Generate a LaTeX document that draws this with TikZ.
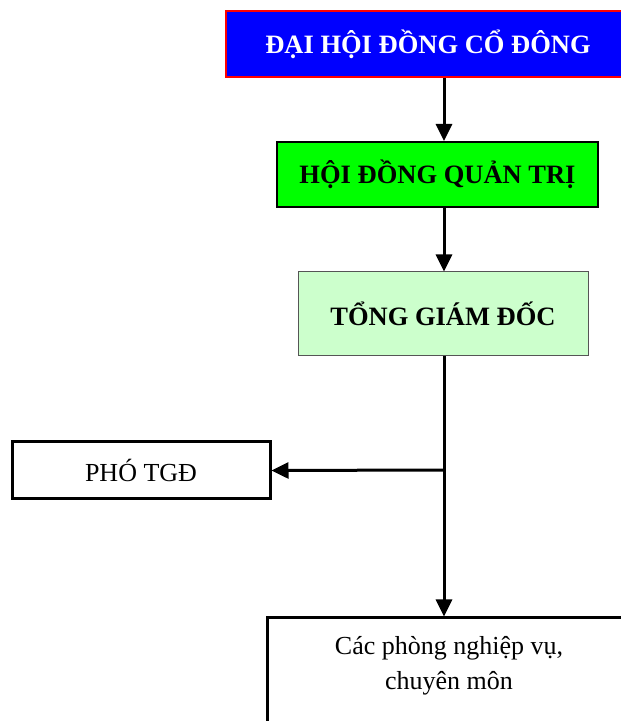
\documentclass[tikz,border=0pt]{standalone}
\usepackage{fontspec}
\setmainfont{Liberation Serif}
\usetikzlibrary{arrows.meta}
\definecolor{bluebox}{HTML}{0000FF}
\definecolor{redline}{HTML}{FF0000}
\definecolor{greenbox}{HTML}{00FF00}
\definecolor{lightgreen}{HTML}{CCFFCC}
\definecolor{grayline}{HTML}{555555}
\begin{document}
\begin{tikzpicture}[x=1pt,y=1pt,
  boxbase/.style={rectangle, inner sep=0pt, align=center, font=\fontsize{26}{35}\selectfont},
  boldtext/.style={font=\fontsize{26.5}{35}\selectfont\bfseries},
  conn/.style={line width=3pt, -{Triangle[length=17pt,width=16pt]}},
  plainline/.style={line width=3pt}]
\useasboundingbox (0,0) rectangle (621,721);
\begin{scope}
\clip (0,0) rectangle (621,721);
\node[boxbase, boldtext, fill=bluebox, draw=redline, line width=2pt, text=white,
      minimum width=404pt, minimum height=66pt]
  (b1) at (428,677) {ĐẠI HỘI ĐỒNG CỔ ĐÔNG};
\node[boxbase, boldtext, fill=greenbox, draw=black, line width=2pt,
      minimum width=321pt, minimum height=65pt]
  (b2) at (437.5,546.5) {HỘI ĐỒNG QUẢN TRỊ};
\node[boxbase, boldtext, fill=lightgreen, draw=grayline, line width=1pt,
      minimum width=290pt, minimum height=84pt]
  (b3) at (443,407) {TỔNG GIÁM ĐỐC};
\node[boxbase, draw=black, line width=3pt,
      minimum width=258pt, minimum height=57pt]
  (b4) at (141,250.5) {PHÓ TGĐ};
\node[boxbase, draw=black, line width=3pt,
      minimum width=364pt, minimum height=122pt]
  (b5) at (449,42) {};
\node[boxbase] (t5) at (449,55) {Các phòng nghiệp vụ,\\chuyên môn};
\coordinate (spine) at (444,0);
\coordinate (j) at (444,251);
\draw[conn] (b1.south -| spine) -- (b2.north -| spine);
\draw[conn] (b2.south -| spine) -- (b3.north -| spine);
\draw[plainline] (b3.south -| spine) -- (j);
\draw[conn] (j) -- (b5.north -| spine);
\draw[conn] (j) -- (b4.east);
\end{scope}
\end{tikzpicture}
\end{document}
